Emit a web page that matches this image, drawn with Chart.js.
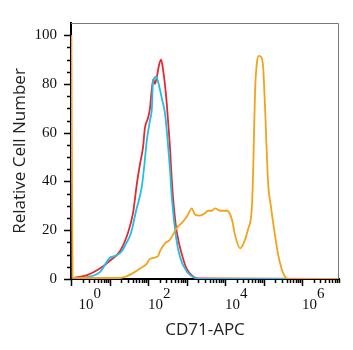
<!DOCTYPE html>
<html>
<head>
<meta charset="utf-8">
<script src="https://cdn.jsdelivr.net/npm/chart.js@4.4.1/dist/chart.umd.min.js"></script>
<style>
    body { margin: 0; background: #fff; }
    #wrap { width: 353px; height: 350px; }
</style>
</head>
<body>
<div id="wrap"><canvas id="chart" width="353" height="350"></canvas></div>
<script>
// x positions are given as log10 of the CD71-APC intensity
let redLogX = [0.05, 0.42, 0.75, 1.01, 1.27, 1.48, 1.61, 1.71, 1.79, 1.87, 1.92, 2.0, 2.05, 2.10, 2.14, 2.18, 2.23, 2.29, 2.34, 2.39, 2.47, 2.52, 2.57, 2.62, 2.68, 2.75, 2.88, 3.01, 3.17, 3.30, 6.96];
let redY = [0.4, 1.6, 4.3, 7.5, 11.4, 19, 27, 39, 47, 54, 62, 66, 70, 78, 82, 80, 83, 88, 90, 86, 75, 65, 54, 40, 28, 19, 10, 4, 1, 0.2, 0];

let cyanLogX = [0.05, 0.42, 0.75, 1.01, 1.17, 1.32, 1.42, 1.56, 1.69, 1.84, 1.90, 1.97, 2.05, 2.10, 2.13, 2.21, 2.26, 2.36, 2.44, 2.52, 2.57, 2.62, 2.73, 2.83, 3.01, 3.22, 3.35, 6.96];
let cyanY = [0.3, 0.8, 2.8, 8.7, 9.6, 11.4, 14.2, 19, 28, 38, 46, 57, 65, 70, 81, 83, 81, 74, 68, 55, 45, 33, 17, 9, 3, 0.4, 0, 0];

let orangeLogX = [0.01, 0.04, 0.68, 1.27, 1.45, 1.61, 1.79, 1.97, 2.05, 2.26, 2.31, 2.44, 2.57, 2.75, 2.88, 3.01, 3.14, 3.22, 3.35, 3.48, 3.56, 3.66, 3.74, 3.87, 4.05, 4.18, 4.26, 4.39, 4.47, 4.60, 4.70, 4.73, 4.78, 4.83, 4.88, 4.94, 4.99, 5.04, 5.12, 5.19, 5.25, 5.38, 5.51, 5.64, 6.96];
let orangeY = [100, 0.5, 0.4, 0.4, 1.2, 2.4, 4.3, 6.3, 8.3, 9.4, 11.4, 14.6, 16.1, 21, 23, 25.6, 29, 26.4, 26, 27, 28, 28, 29, 28, 28, 24.4, 18, 12.6, 14.2, 20.5, 30, 44, 77, 89, 91.5, 91, 87, 70, 39, 30, 23, 10, 2.4, 0, 0];

let xTickExp = [0, 2, 4, 6];
let xTickLabels = [['\u2002\u2002\u20020', '\u200210'], ['\u2002\u20022', '10'], ['\u2002\u20024', '10'], ['\u2002\u20026', '10']];
let yTicks = [0, 20, 40, 60, 80, 100];

function toPoints(logX, ys) {
    let pts = [];
    for (let i = 0; i < logX.length; i++) {
        pts.push({x: Math.pow(10, logX[i]), y: ys[i]});
    }
    return pts;
}

function line(label, pts, color, order) {
    return {
        label: label,
        data: pts,
        borderColor: color,
        backgroundColor: color,
        borderWidth: 1.8,
        pointRadius: 0,
        cubicInterpolationMode: 'monotone',
        fill: false,
        order: order
    };
}

const frameTicks = {
    id: 'frameTicks',
    afterDraw(chart) {
        let ctx = chart.ctx;
        let a = chart.chartArea;
        let x = chart.scales.x;
        let y = chart.scales.y;
        ctx.save();
        ctx.strokeStyle = '#777';
        ctx.lineWidth = 1;
        ctx.beginPath();
        ctx.moveTo(a.left, a.top + 0.5);
        ctx.lineTo(a.right - 0.5, a.top + 0.5);
        ctx.lineTo(a.right - 0.5, a.bottom);
        ctx.stroke();

        ctx.strokeStyle = '#000';
        ctx.lineWidth = 1.5;
        ctx.beginPath();
        for (let d = 0; d <= 6; d++) {
            for (let k = 1; k <= 9; k++) {
                let v = k * Math.pow(10, d);
                if (v > x.max) break;
                let px = Math.round(x.getPixelForValue(v)) + 0.5;
                let len = k === 1 ? 7 : 4;
                ctx.moveTo(px, a.bottom);
                ctx.lineTo(px, a.bottom + len);
            }
        }
        for (let v = 0; v <= 100; v += 5) {
            let py = Math.round(y.getPixelForValue(v)) + 0.5;
            let len = v % 20 === 0 ? 7 : 4;
            ctx.moveTo(a.left, py);
            ctx.lineTo(a.left - len, py);
        }
        ctx.stroke();
        ctx.restore();
    }
};

let chart = new Chart(document.getElementById('chart'), {
    type: 'line',
    data: {
        datasets: [
            line('Isotype', toPoints(redLogX, redY), '#e8282e', 3),
            line('Unstained', toPoints(cyanLogX, cyanY), '#1ec0e8', 2),
            line('CD71-APC', toPoints(orangeLogX, orangeY), '#f3a31b', 1)
        ]
    },
    options: {
        responsive: false,
        animation: false,
        layout: {padding: {top: 12, right: 14, left: 0, bottom: 0}},
        plugins: {
            legend: {display: false},
            tooltip: {enabled: false}
        },
        scales: {
            x: {
                type: 'logarithmic',
                min: 1,
                max: Math.pow(10, 6.96),
                afterBuildTicks: s => { s.ticks = xTickExp.map(e => ({value: Math.pow(10, e)})); },
                afterFit: s => { s.height = 71; },
                grid: {display: false, drawTicks: false},
                border: {display: true, color: '#000', width: 2},
                ticks: {
                    align: 'start',
                    autoSkip: false,
                    maxRotation: 0,
                    padding: 10,
                    color: '#111',
                    font: {family: 'Liberation Serif', size: 15, lineHeight: 0.7},
                    callback: (v, i) => xTickLabels[i]
                },
                title: {
                    display: true,
                    text: 'CD71-APC',
                    color: '#222',
                    font: {family: 'Open Sans', size: 17},
                    padding: {top: 0, bottom: 10}
                }
            },
            y: {
                min: 0,
                max: 105,
                afterBuildTicks: s => { s.ticks = yTicks.map(v => ({value: v})); },
                afterFit: s => { s.width = 71; },
                grid: {display: false, drawTicks: false},
                border: {display: true, color: '#000', width: 2},
                ticks: {
                    padding: 14,
                    color: '#111',
                    font: {family: 'Liberation Serif', size: 15}
                },
                title: {
                    display: true,
                    text: 'Relative Cell Number',
                    color: '#222',
                    font: {family: 'Open Sans', size: 17},
                    padding: {top: 10, bottom: 0}
                }
            }
        }
    },
    plugins: [frameTicks]
});
</script>
</body>
</html>
